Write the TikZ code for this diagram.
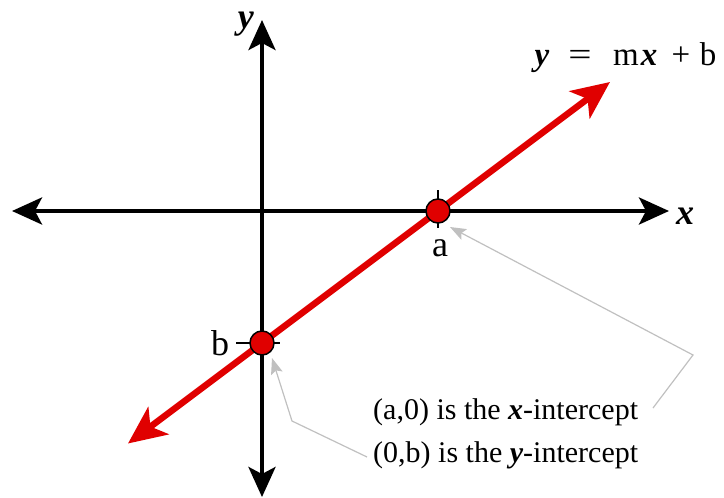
\documentclass[tikz,border=0pt]{standalone}
\usepackage{fontspec}
\setmainfont{Liberation Serif}
\usetikzlibrary{arrows.meta}
\definecolor{lred}{RGB}{224,0,0}
\definecolor{cgray}{RGB}{192,192,192}
\tikzset{
  axis/.style={line width=4pt, -{Stealth[length=30pt,width=27pt,inset=7pt]}},
  redline/.style={line width=6.5pt, draw=lred, {Stealth[length=38pt,width=34pt,inset=10pt]}-{Stealth[length=38pt,width=34pt,inset=10pt]}},
  dot/.style={circle, fill=lred, draw=black, line width=1.5pt, minimum size=24pt, inner sep=0pt},
  tick/.style={line width=2pt},
  callout/.style={draw=cgray, line width=1.2pt, -{Stealth[length=16pt,width=12pt,inset=3pt]}},
  lbl/.style={inner sep=0pt, anchor=base, font=\fontsize{36}{40}\selectfont},
  eqlbl/.style={inner sep=0pt, anchor=base, font=\fontsize{33}{38}\selectfont},
  txt/.style={inner sep=0pt, anchor=base west, font=\fontsize{30}{36}\selectfont}
}
\newcommand{\bix}[1]{\textbf{\textit{#1}}}
\begin{document}
\begin{tikzpicture}[x=1pt,y=-1pt]
\useasboundingbox (0,0) rectangle (724,498);
% axes
\coordinate (o) at (262,211);
\coordinate (xl) at (12,211);
\coordinate (xr) at (669,211);
\coordinate (yt) at (262,20);
\coordinate (yb) at (262,497);
\draw[axis] (o) -- (xl);
\draw[axis] (o) -- (xr);
\draw[axis] (o) -- (yt);
\draw[axis] (o) -- (yb);
\node[lbl] (xlab) at (685,224) {\bix{x}};
\node[lbl] (ylab) at (246,28) {\bix{y}};
% intercept points
\coordinate (A) at (438,211);
\coordinate (B) at (262,343);
\coordinate (at1) at (438,190);
\coordinate (at2) at (438,228);
\coordinate (bt1) at (236,343);
\coordinate (bt2) at (280,343);
\draw[tick] (at1) -- (at2);
\draw[tick] (bt1) -- (bt2);
% red line
\coordinate (r1) at (128,443.5);
\coordinate (r2) at (610,82);
\draw[redline] (r1) -- (r2);
\node[dot] (pa) at (A) {};
\node[dot] (pb) at (B) {};
\node[lbl] (alab) at (440,256) {a};
\node[lbl] (blab) at (220,355) {b};
% equation
\node[eqlbl] (eqy) at (542,65) {\bix{y}};
\node[eqlbl] (eqeq) at (580,65) {\scalebox{1.25}[1]{=}};
\node[eqlbl] (eqm) at (626,65) {m};
\node[eqlbl] (eqx) at (649,65) {\bix{x}};
\node[eqlbl] (eqp) at (681,65) {+};
\node[eqlbl] (eqb) at (708,65) {b};
% callouts
\node[txt] (t1) at (373,419) {(a,0) is the \bix{x}-intercept};
\node[txt] (t2) at (373,462) {(0,b) is the \bix{y}-intercept};
\coordinate (c1s) at (653,408);
\coordinate (c1m) at (693,355);
\coordinate (c1e) at (450,227);
\coordinate (c2s) at (367,457);
\coordinate (c2m) at (292,421);
\coordinate (c2e) at (272,358);
\draw[callout] (c1s) -- (c1m) -- (c1e);
\draw[callout] (c2s) -- (c2m) -- (c2e);
\end{tikzpicture}
\end{document}
